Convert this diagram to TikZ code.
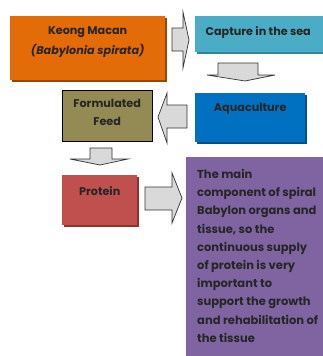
\documentclass[tikz,border=0pt]{standalone}
\usepackage{fontspec}
\setmainfont{Poppins}
\definecolor{orangeF}{RGB}{227,108,9}
\definecolor{orangeS}{RGB}{150,70,5}
\definecolor{capF}{RGB}{75,172,198}
\definecolor{capS}{RGB}{49,133,155}
\definecolor{aquaF}{RGB}{0,112,192}
\definecolor{aquaS}{RGB}{0,80,140}
\definecolor{feedF}{RGB}{148,138,84}
\definecolor{protF}{RGB}{192,80,77}
\definecolor{protS}{RGB}{140,50,48}
\definecolor{purpF}{RGB}{128,100,162}
\begin{document}
\begin{tikzpicture}[x=1pt,y=-1pt,
  box/.style={anchor=north west,inner sep=0pt,align=center,font=\bfseries\fontsize{11.2}{18}\selectfont,text=black!85},
  blockarrow/.style={fill=black!15,draw=black!80,line width=0.7pt,line join=miter}]
\useasboundingbox (0,0) rectangle (323,356);
% orange
\fill[orangeS] (11.5,17.5) rectangle (166.5,81.5);
\fill[orangeF] (10,16) rectangle (165,80);
\node[box,minimum width=155pt,font=\bfseries\fontsize{11.2}{20}\selectfont] (keong) at (10,26) {Keong Macan\\\textit{(Babylonia spirata)}};
% capture
\fill[capS] (196.5,17.5) rectangle (325,54);
\fill[capF] (195,16) rectangle (325,52);
\node[box,minimum width=130pt] (capture) at (193,26) {Capture in the sea};
% aquaculture
\fill[aquaS] (196.5,94.5) rectangle (306.5,143.5);
\fill[aquaF] (195,93) rectangle (305,142);
\node[box,minimum width=110pt] (aqua) at (195,103) {Aquaculture};
% formulated
\filldraw[fill=feedF,draw=black,line width=0.8pt] (62,90) rectangle (152,141);
\node[box,minimum width=90pt] (feed) at (62,99) {Formulated\\Feed};
% protein
\fill[protS] (63.5,176.5) rectangle (138.5,226.5);
\fill[protF] (62,175) rectangle (137,225);
\node[box,minimum width=75pt] (protein) at (62,186) {Protein};
% purple
\fill[purpF] (186,157) rectangle (325,358);
\node[box,align=left,font=\bfseries\fontsize{11.5}{18.2}\selectfont] (desc) at (197,169) {The main\\component of spiral\\Babylon organs and\\tissue, so the\\continuous supply\\of protein is very\\important to\\support the growth\\and rehabilitation of\\the tissue};
% arrows
\draw[blockarrow] (172,28) -- (183,28) -- (183,12) -- (189,40) -- (183,68) -- (183,51) -- (172,51) -- cycle;
\draw[blockarrow] (218,63) -- (258,63) -- (258,75) -- (275,75) -- (245,81) -- (207,75) -- (218,75) -- cycle;
\draw[blockarrow] (187,105) -- (167,105) -- (167,93) -- (158,117) -- (167,143) -- (167,128) -- (187,128) -- cycle;
\draw[blockarrow] (90,148) -- (112,148) -- (112,159) -- (128,159) -- (100,165) -- (70,159) -- (90,159) -- cycle;
\draw[blockarrow] (145,187) -- (172,187) -- (172,173) -- (182,198) -- (172,223) -- (172,210) -- (145,210) -- cycle;
\end{tikzpicture}
\end{document}
